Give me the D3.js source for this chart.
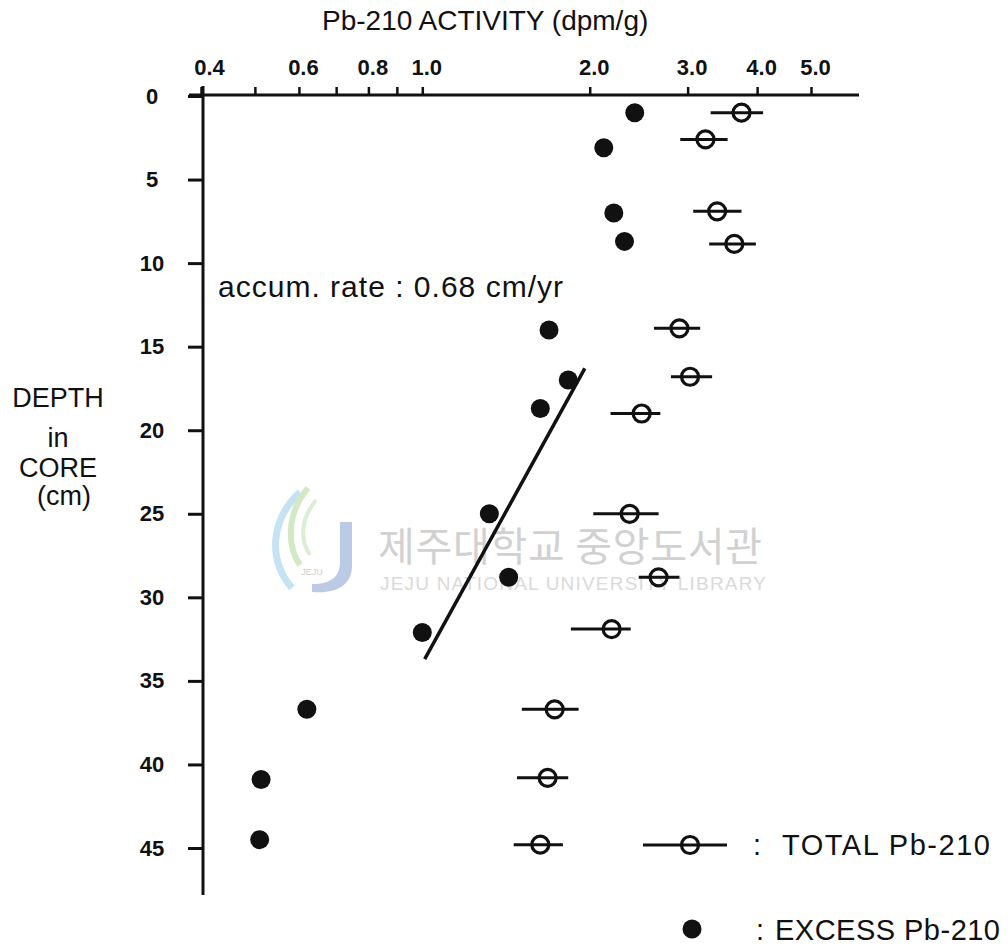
<!DOCTYPE html>
<html>
<head>
<meta charset="utf-8">
<script src="https://cdn.jsdelivr.net/npm/d3@7"></script>
<style>
body { margin: 0; background: #fff; }
text { font-family: "Liberation Sans", Arial, sans-serif; fill: #111; }
</style>
</head>
<body>
<div id="chart"></div>
<script>
// excess Pb-210 (filled dots)
var excessDepth = [1.0, 3.1, 7.0, 8.7, 14.0, 17.0, 18.7, 25.0, 28.8, 32.1, 36.7, 40.9, 44.5];
var excessValue = [2.41, 2.12, 2.21, 2.31, 1.69, 1.83, 1.63, 1.32, 1.43, 1.00, 0.62, 0.513, 0.51];

// total Pb-210 (open circles with error bars)
var totalDepth = [1.0, 2.6, 6.9, 8.85, 13.9, 16.8, 19.0, 25.0, 28.8, 31.9, 36.7, 40.8, 44.8];
var totalValue = [3.75, 3.23, 3.39, 3.64, 2.90, 3.03, 2.48, 2.36, 2.66, 2.19, 1.73, 1.68, 1.63];
var totalLow = [3.30, 2.91, 3.07, 3.28, 2.61, 2.80, 2.18, 2.03, 2.45, 1.85, 1.51, 1.48, 1.46];
var totalHigh = [4.10, 3.54, 3.75, 3.98, 3.16, 3.32, 2.68, 2.66, 2.90, 2.37, 1.91, 1.83, 1.79];

// fitted line (accumulation rate)
var fitValue = [1.96, 1.01];
var fitDepth = [16.3, 33.7];

var xTicks = [0.4, 0.5, 0.6, 0.7, 0.8, 0.9, 1, 2, 3, 4, 5];
var xLabels = [0.4, 0.6, 0.8, 1, 2, 3, 4, 5];
var yTicks = [0, 5, 10, 15, 20, 25, 30, 35, 40, 45];

var svg = d3.select("#chart").append("svg")
  .attr("width", 1008)
  .attr("height", 949);

// scales
var x = d3.scaleLog().domain([0.4, 5]).range([201, 811]);
var y = d3.scaleLinear().domain([0, 45]).range([96, 848]);

// watermark (library stamp)
var wm = svg.append("g").attr("opacity", 0.9);
wm.append("path")
  .attr("d", "M300,492 C270,520 268,560 292,588")
  .attr("fill", "none").attr("stroke", "#bfe0f2").attr("stroke-width", 7);
wm.append("path")
  .attr("d", "M308,488 C285,515 288,548 300,565")
  .attr("fill", "none").attr("stroke", "#cfe6bf").attr("stroke-width", 6);
wm.append("path")
  .attr("d", "M316,500 C300,520 300,540 310,555")
  .attr("fill", "none").attr("stroke", "#d9ecd0").attr("stroke-width", 4);
wm.append("path")
  .attr("d", "M340,522 L352,522 L352,566 C352,584 338,594 312,592 L312,584 C332,584 340,576 340,562 Z")
  .attr("fill", "#b4c6e4");
wm.append("text").attr("x", 312).attr("y", 575).attr("text-anchor", "middle")
  .style("font-size", "9px").style("fill", "#c8c8c8").text("JEJU");
wm.append("text")
  .attr("x", 378).attr("y", 561)
  .style("font-family", "'Noto Sans CJK KR', sans-serif")
  .style("font-size", "40px")
  .style("fill", "#cdcdcd")
  .attr("textLength", 384)
  .text("제주대학교 중앙도서관");
wm.append("text")
  .attr("x", 380).attr("y", 590)
  .style("font-size", "19px")
  .style("fill", "#d6d6d6")
  .attr("textLength", 386)
  .text("JEJU NATIONAL UNIVERSITY LIBRARY");

// top axis
var xAxis = svg.append("g")
  .attr("transform", "translate(0,95)")
  .call(d3.axisTop(x)
    .tickValues(xTicks)
    .tickSize(8)
    .tickPadding(12)
    .tickFormat(function (d) { return xLabels.indexOf(d) >= 0 ? d.toFixed(1) : ""; }));
xAxis.select(".domain").remove();
xAxis.selectAll(".tick line").attr("stroke", "#111").attr("stroke-width", 2.5);
xAxis.selectAll(".tick text")
  .attr("dx", function (d) { return d == 0.4 ? 8 : 4; })
  .style("font-size", "22px").style("font-weight", "bold");
svg.append("line")
  .attr("x1", 189).attr("x2", 859).attr("y1", 95).attr("y2", 95)
  .attr("stroke", "#111").attr("stroke-width", 3);

// left axis
var yAxis = svg.append("g")
  .attr("transform", "translate(203,0)")
  .call(d3.axisLeft(y).tickValues(yTicks).tickSize(15));
yAxis.select(".domain").remove();
yAxis.selectAll(".tick line").attr("stroke", "#111").attr("stroke-width", 3);
yAxis.selectAll(".tick text")
  .attr("x", -51).attr("text-anchor", "middle")
  .style("font-size", "22px").style("font-weight", "bold");
svg.append("line")
  .attr("x1", 203).attr("x2", 203).attr("y1", 86).attr("y2", 895)
  .attr("stroke", "#111").attr("stroke-width", 3);

// axis titles
svg.append("text")
  .attr("x", 322).attr("y", 30)
  .style("font-size", "28px")
  .text("Pb-210 ACTIVITY (dpm/g)");

var depthTitle = ["DEPTH", "in", "CORE", "(cm)"];
var depthTitleY = [407, 447, 477, 505];
depthTitle.forEach(function (t, i) {
  svg.append("text")
    .attr("x", i == 3 ? 64 : 58).attr("y", depthTitleY[i])
    .attr("text-anchor", "middle")
    .style("font-size", "27px")
    .text(t);
});

svg.append("text")
  .attr("x", 218).attr("y", 297)
  .attr("textLength", 345)
  .style("font-size", "30px")
  .text("accum. rate : 0.68 cm/yr");

// fitted line
svg.append("line")
  .attr("x1", x(fitValue[0])).attr("y1", y(fitDepth[0]))
  .attr("x2", x(fitValue[1])).attr("y2", y(fitDepth[1]))
  .attr("stroke", "#111").attr("stroke-width", 3.5);

// total Pb-210
var total = totalDepth.map(function (d, i) {
  return { depth: d, value: totalValue[i], lo: totalLow[i], hi: totalHigh[i] };
});
var tg = svg.selectAll(".total").data(total).enter().append("g").attr("class", "total");
tg.append("line")
  .attr("x1", function (d) { return x(d.lo); })
  .attr("x2", function (d) { return x(d.hi); })
  .attr("y1", function (d) { return y(d.depth); })
  .attr("y2", function (d) { return y(d.depth); })
  .attr("stroke", "#111").attr("stroke-width", 3);
tg.append("circle")
  .attr("cx", function (d) { return x(d.value); })
  .attr("cy", function (d) { return y(d.depth); })
  .attr("r", 8.5)
  .attr("fill", "none").attr("stroke", "#111").attr("stroke-width", 3.2);

// excess Pb-210
svg.selectAll(".excess")
  .data(excessDepth)
  .enter().append("circle")
  .attr("class", "excess")
  .attr("cx", function (d, i) { return x(excessValue[i]); })
  .attr("cy", function (d) { return y(d); })
  .attr("r", 9.5)
  .attr("fill", "#111");

// legend
var lg = svg.append("g");
lg.append("line").attr("x1", 643).attr("x2", 727).attr("y1", 845).attr("y2", 845)
  .attr("stroke", "#111").attr("stroke-width", 3);
lg.append("circle").attr("cx", 690).attr("cy", 845).attr("r", 8.5)
  .attr("fill", "none").attr("stroke", "#111").attr("stroke-width", 3.2);
lg.append("text").attr("x", 753).attr("y", 855).style("font-size", "29px").text(":");
lg.append("text").attr("x", 782).attr("y", 855).style("font-size", "29px")
  .attr("textLength", 208)
  .text("TOTAL Pb-210");
lg.append("circle").attr("cx", 692).attr("cy", 929).attr("r", 9.5).attr("fill", "#111");
lg.append("text").attr("x", 756).attr("y", 940).style("font-size", "29px").text(":");
lg.append("text").attr("x", 775).attr("y", 940).style("font-size", "29px")
  .attr("textLength", 225)
  .text("EXCESS Pb-210");
</script>
</body>
</html>
